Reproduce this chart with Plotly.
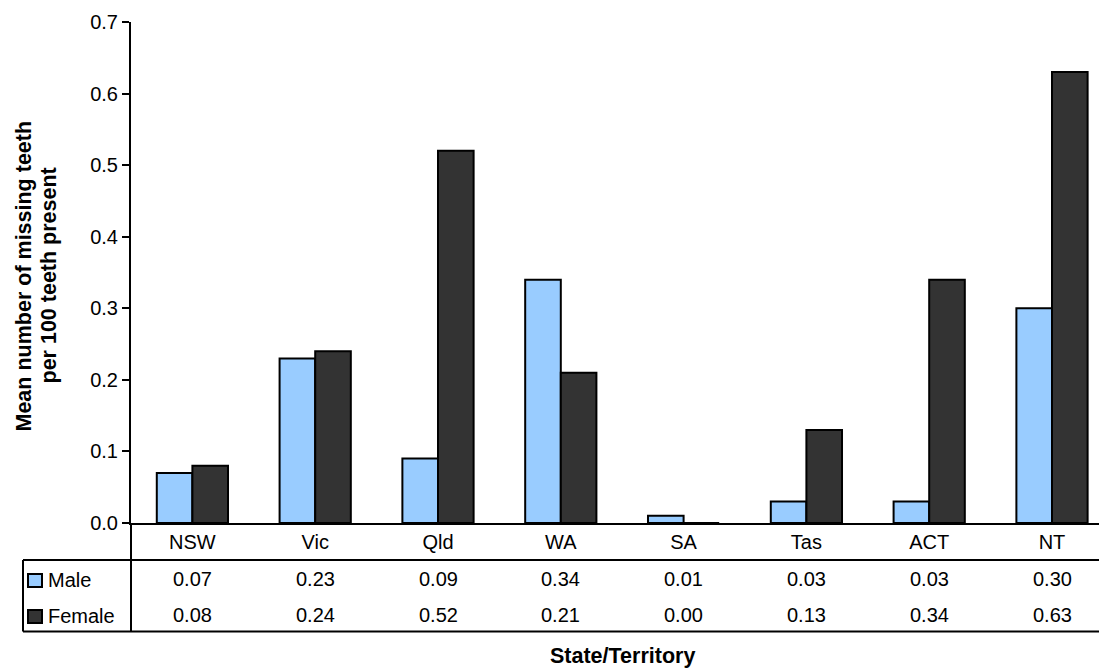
import plotly.graph_objects as go

categories = ["NSW", "Vic", "Qld", "WA", "SA", "Tas", "ACT", "NT"]
male = [0.07, 0.23, 0.09, 0.34, 0.01, 0.03, 0.03, 0.30]
female = [0.08, 0.24, 0.52, 0.21, 0.00, 0.13, 0.34, 0.63]
series_names = ["Male", "Female"]
y_ticks = [0.0, 0.1, 0.2, 0.3, 0.4, 0.5, 0.6, 0.7]
y_title = ["Mean number of missing teeth", "per 100 teeth present"]
x_title = "State/Territory"

FONT = "Arial, Liberation Sans, sans-serif"
COL_M = "#99CCFF"
COL_F = "#333333"

OFF = 8  # page body margin
W, H = 1107 - OFF, 669 - OFF
ML, MR, MT = 131 - OFF, 0, 22 - OFF
MB = H - (523 - OFF)
PW = W - ML - MR
PH = H - MT - MB


def px_x(x):
    return (x - 131) / PW


def px_y(y):
    return (523 - y) / PH


fig = go.Figure()
fig.add_trace(go.Bar(x=categories, y=male, name=series_names[0],
                     marker=dict(color=COL_M, line=dict(color="black", width=2))))
fig.add_trace(go.Bar(x=categories, y=female, name=series_names[1],
                     marker=dict(color=COL_F, line=dict(color="black", width=2))))

annotations = []
shapes = []

# table values
for cat, m, f in zip(categories, male, female):
    annotations.append(dict(x=cat, xref="x", y=px_y(579), yref="paper", text=f"{m:.2f}",
                            showarrow=False, font=dict(size=20, color="black", family=FONT),
                            xanchor="center", yanchor="middle"))
    annotations.append(dict(x=cat, xref="x", y=px_y(615), yref="paper", text=f"{f:.2f}",
                            showarrow=False, font=dict(size=20, color="black", family=FONT),
                            xanchor="center", yanchor="middle"))

# legend labels in table
for name, yy, col in [(series_names[0], 580, COL_M), (series_names[1], 616, COL_F)]:
    annotations.append(dict(x=px_x(46), xref="paper", y=px_y(yy), yref="paper", text=name,
                            showarrow=False, font=dict(size=20, color="black", family=FONT),
                            xanchor="left", yanchor="middle"))
    shapes.append(dict(type="rect", xref="paper", yref="paper",
                       x0=px_x(28), x1=px_x(42), y0=px_y(yy - 6), y1=px_y(yy + 7),
                       fillcolor=col, line=dict(color="black", width=2)))

# table lines
line_style = dict(color="black", width=2)
shapes.append(dict(type="line", xref="paper", yref="paper", x0=px_x(23), x1=1.0,
                   y0=px_y(560), y1=px_y(560), line=line_style))
shapes.append(dict(type="line", xref="paper", yref="paper", x0=px_x(23), x1=1.0,
                   y0=px_y(631.5), y1=px_y(631.5), line=line_style))
shapes.append(dict(type="line", xref="paper", yref="paper", x0=px_x(23), x1=px_x(23),
                   y0=px_y(560), y1=px_y(631.5), line=line_style))
shapes.append(dict(type="line", xref="paper", yref="paper", x0=0, x1=0,
                   y0=0, y1=px_y(631.5), line=line_style))

# axis titles
annotations.append(dict(x=px_x(23.5), xref="paper", y=px_y(276), yref="paper", text=f"<b>{y_title[0]}</b>",
                        textangle=-90, showarrow=False, font=dict(size=21.5, color="black", family=FONT),
                        xanchor="center", yanchor="middle"))
annotations.append(dict(x=px_x(48.5), xref="paper", y=px_y(276), yref="paper", text=f"<b>{y_title[1]}</b>",
                        textangle=-90, showarrow=False, font=dict(size=21.5, color="black", family=FONT),
                        xanchor="center", yanchor="middle"))
annotations.append(dict(x=px_x(622), xref="paper", y=px_y(656), yref="paper", text=f"<b>{x_title}</b>",
                        showarrow=False, font=dict(size=21.5, color="black", family=FONT),
                        xanchor="center", yanchor="middle"))

cat_w = 122.8
right_ext = (131 + 8 * cat_w - 1107) / cat_w

fig.update_layout(
    width=W, height=H,
    margin=dict(l=ML, r=MR, t=MT, b=MB, pad=0),
    paper_bgcolor="white", plot_bgcolor="white",
    barmode="group", bargap=0.42, bargroupgap=0,
    showlegend=False,
    font=dict(family=FONT, size=20, color="black"),
    xaxis=dict(range=[-0.5, 7.5 - right_ext], showline=True, linecolor="black", linewidth=2,
               ticks="", showgrid=False, zeroline=False,
               tickfont=dict(size=20, family=FONT, color="black"), fixedrange=True),
    yaxis=dict(range=[0, 0.7], tickvals=y_ticks, ticktext=[f"{v:.1f}" for v in y_ticks],
               showline=True, linecolor="black", linewidth=2, ticks="outside", ticklen=7,
               tickwidth=2, tickcolor="black", showgrid=False, zeroline=False,
               tickfont=dict(size=20, family=FONT, color="black")),
    annotations=annotations,
    shapes=shapes,
)

fig.write_html("out.html")
